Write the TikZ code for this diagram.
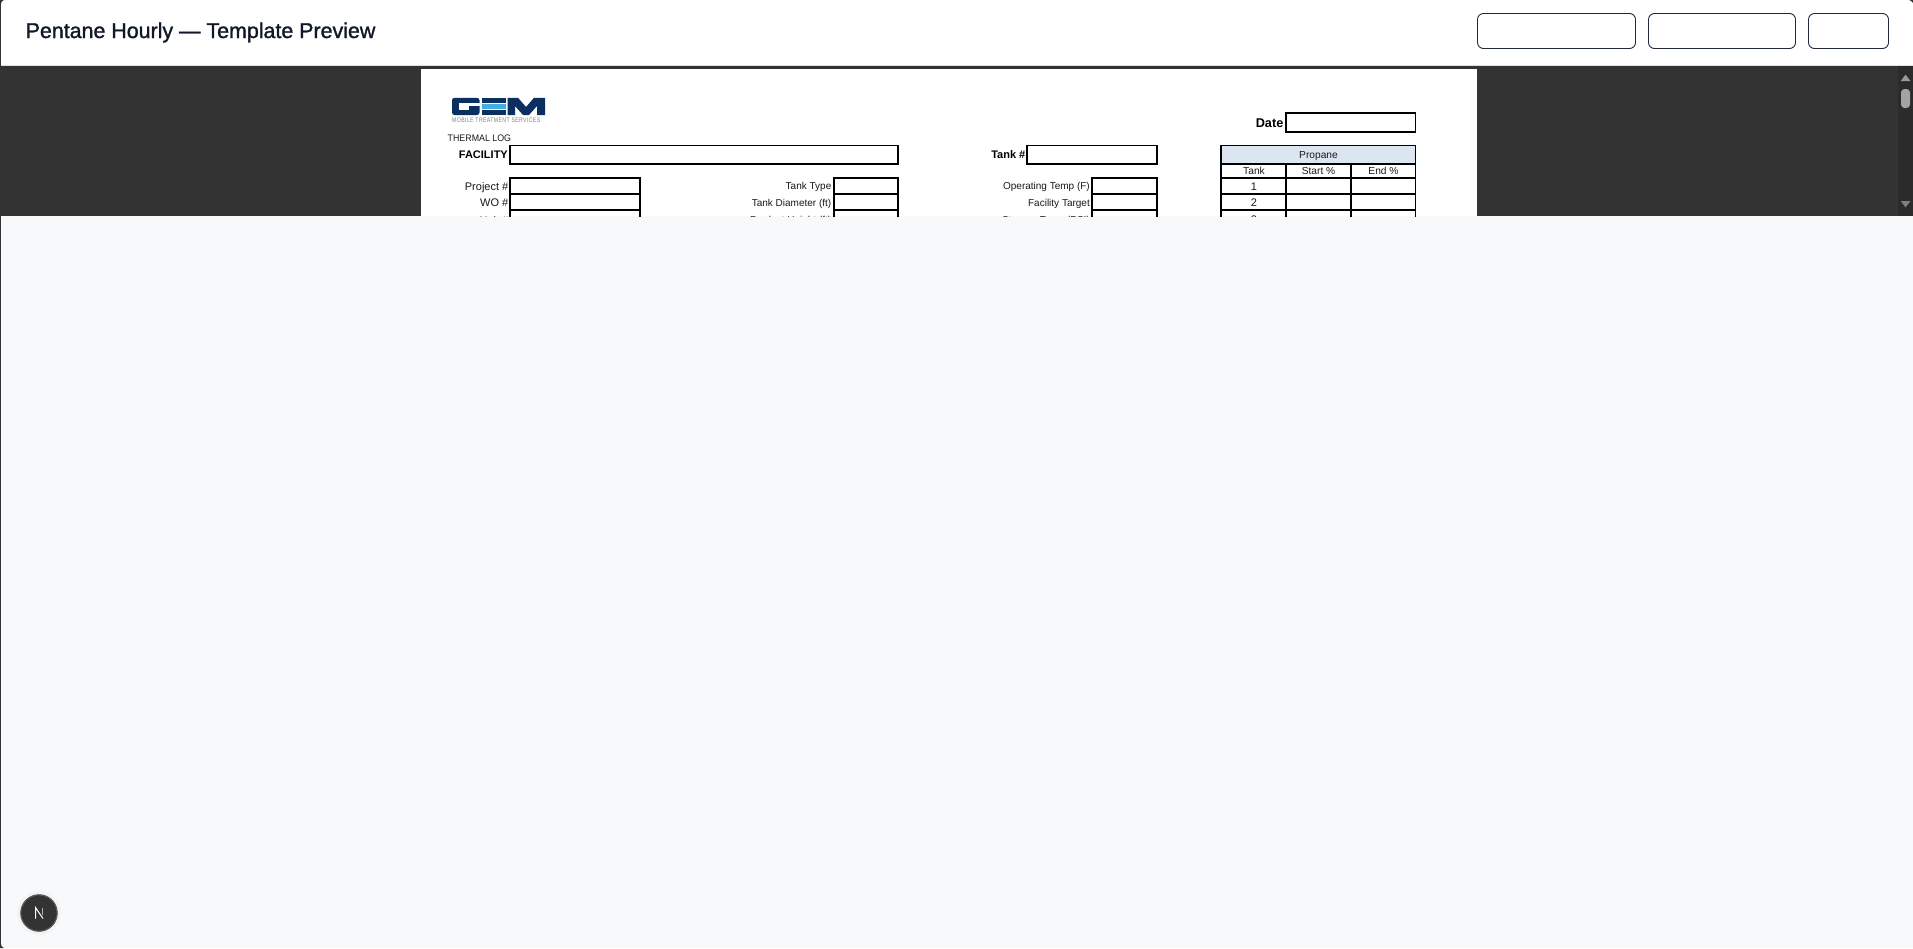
\documentclass[tikz,border=0pt]{standalone}
\usepackage{fontspec}
\setmainfont{Liberation Sans}
\newfontfamily\uifont[FakeBold=1.3]{Liberation Sans}
\definecolor{pagebg}{HTML}{F8F9FB}
\definecolor{viewer}{HTML}{333333}
\definecolor{track}{HTML}{2B2B2B}
\definecolor{inkdark}{HTML}{111827}
\definecolor{btnline}{HTML}{1F2937}
\definecolor{headfill}{HTML}{DCE6F1}
\definecolor{gemblue}{HTML}{0B2F5E}
\definecolor{gemsky}{HTML}{45AEE0}
\tikzset{
  x=1pt,y=-1pt,
  cellbox/.style={draw=black,line width=1.7pt,fill=none},
  btnbox/.style={draw=btnline,line width=0.9pt,rounded corners=6pt,fill=white},
  lblr/.style={anchor=base east,inner sep=0pt,font=\fontsize{10}{12}\selectfont,text=black!90},
  lblbold/.style={anchor=base east,inner sep=0pt,font=\fontsize{11}{13}\selectfont\bfseries,text=black},
  lblc/.style={anchor=base,inner sep=0pt,font=\fontsize{10.2}{12}\selectfont,text=black!90},
}
\begin{document}
\begin{tikzpicture}
\useasboundingbox (0,0) rectangle (1913,948);
\fill[pagebg] (0,0) rectangle (1913,948);
% viewer
\fill[viewer] (0,66) rectangle (1913,216);
\fill[track] (1898,66) rectangle (1913,216);
\fill[white] (421,69) rectangle (1477,216);
\fill[white] (0,0) rectangle (1913,65);
\draw[black!12,line width=0.7pt] (0,65.3) -- (1913,65.3);
\draw[viewer,line width=1.4pt] (0.5,0) -- (0.5,948);
% window corners
\fill[viewer] (0,0) -- (4,0) .. controls (2,0.5) and (1.2,2) .. (1,4) -- (0,4) -- cycle;
\fill[viewer] (0,948) -- (4,948) .. controls (2,947.5) and (1.2,946) .. (1,944) -- (0,944) -- cycle;
\fill[viewer] (1913,0) -- (1909,0) .. controls (1911,0.5) and (1912,1.5) .. (1913,3) -- cycle;
% scrollbar
\fill[black!40!white] (1905.5,74.7) -- (1910.5,81) -- (1900.7,81) -- cycle;
\fill[black!50!white] (1905.5,207.3) -- (1910.5,201) -- (1900.7,201) -- cycle;
\fill[black!36!white,rounded corners=3.5pt] (1901,89) rectangle (1910,108);
% header
\node[anchor=base west,inner sep=0pt,text=inkdark,font=\uifont\fontsize{21.4}{24}\selectfont] (title) at (25.5,38) {Pentane Hourly — Template Preview};
\draw[btnbox] (1477.5,13.5) rectangle (1635.5,48.5);
\draw[btnbox] (1648.5,13.5) rectangle (1795.5,48.5);
\draw[btnbox] (1808.5,13.5) rectangle (1888.5,48.5);
% form
\begin{scope}
\clip (421,69) rectangle (1477,216);
% logo
\fill[gemblue,rounded corners=2.5pt] (452,97.8) rectangle (479.5,115);
\fill[white] (459,103) rectangle (480,106);
\fill[white] (459,106) rectangle (469,110);
\fill[gemblue] (481.5,97.8) rectangle (506,103.3);
\fill[gemsky] (481.5,104.4) rectangle (506,109);
\fill[gemblue] (481.5,110) rectangle (506,115);
\fill[gemblue] (507.5,97.8) -- (518,97.8) -- (526,107) -- (534,97.8) -- (545,97.8) -- (545,115) -- (537,115) -- (537,106) -- (529,115) -- (523,115) -- (515,106) -- (515,115) -- (507.5,115) -- cycle;
\node[anchor=base west,inner sep=0pt,text=black!50,font=\fontsize{6.6}{8}\selectfont] (logotext) at (452,122.8) {\addfontfeature{FakeStretch=0.78,LetterSpace=6}MOBILE TREATMENT SERVICES};
\node[anchor=base west,inner sep=0pt,font=\fontsize{9.5}{12}\selectfont,text=black!90] (thermal) at (447.5,141.5) {\addfontfeature{FakeStretch=0.93}THERMAL LOG};
% boxes
\draw[cellbox] (510,145.5) rectangle (898,164);
\draw[cellbox] (1027,145.5) rectangle (1157,164);
\draw[cellbox] (1286,113) rectangle (1415.5,132);
\foreach \i/\a/\b in {1/177.7/193.7,2/193.7/210.3,3/210.3/226}{
  \draw[cellbox] (510,\a) rectangle (640,\b);
  \draw[cellbox] (834,\a) rectangle (898,\b);
  \draw[cellbox] (1092,\a) rectangle (1157,\b);
}
% propane table
\fill[headfill] (1221,145.5) rectangle (1415.5,164);
\draw[cellbox] (1221,145.5) rectangle (1415.5,226);
\draw[cellbox] (1221,164) -- (1415.5,164);
\draw[cellbox] (1221,177.7) -- (1415.5,177.7);
\draw[cellbox] (1221,193.7) -- (1415.5,193.7);
\draw[cellbox] (1221,210.3) -- (1415.5,210.3);
\draw[cellbox] (1286,164) -- (1286,226);
\draw[cellbox] (1351,164) -- (1351,226);
% labels
\node[lblbold] (lfac) at (508,158.5) {FACILITY};
\node[lblbold] (ltank) at (1025.5,158.5) {Tank \#};
\node[lblbold,font=\fontsize{12.7}{14}\selectfont\bfseries] (ldate) at (1283.5,127) {Date};
\node[lblr,font=\fontsize{11}{13}\selectfont] (lproj) at (508.5,190) {Project \#};
\node[lblr,font=\fontsize{11}{13}\selectfont] (lwo) at (508.5,206) {WO \#};
\node[lblr,font=\fontsize{11}{13}\selectfont] (lunit) at (508.5,224) {Unit \#};
\node[lblr] (ltype) at (831.5,189.5) {Tank Type};
\node[lblr] (ldia) at (831.5,206) {Tank Diameter (ft)};
\node[lblr] (lhei) at (831.5,223) {Product Height (ft)};
\node[lblr] (lop) at (1090,189.5) {Operating Temp (F)};
\node[lblr] (lfacT) at (1090,206) {Facility Target};
\node[lblr] (lpress) at (1090,223) {Storage Temp (PSI)};
\node[lblc] (hprop) at (1318.5,158.5) {Propane};
\node[lblc] (htank) at (1254,174.5) {Tank};
\node[lblc] (hstart) at (1318.5,174.5) {Start \%};
\node[lblc] (hend) at (1383.5,174.5) {End \%};
\node[lblc,font=\fontsize{11}{13}\selectfont] (r1) at (1254,190) {1};
\node[lblc,font=\fontsize{11}{13}\selectfont] (r2) at (1254,206) {2};
\node[lblc,font=\fontsize{11}{13}\selectfont] (r3) at (1254,223.5) {3};
\end{scope}
% next badge
\fill[black!6,opacity=0.6] (39,913) circle (22);
\fill[viewer] (39,913) circle (18.7);
\draw[black!60,line width=0.6pt] (39,913) circle (18);
\draw[white,line width=1pt] (35.5,918.5) -- (35.5,907.5) -- (43,918.5);
\draw[white!70!black,line width=1pt] (42.5,907.5) -- (42.5,915);
\end{tikzpicture}
\end{document}
